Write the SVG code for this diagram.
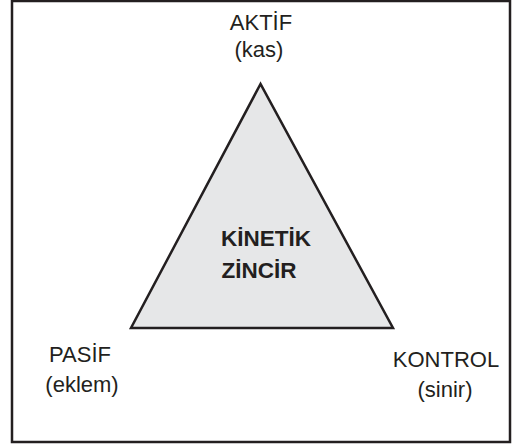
<svg xmlns="http://www.w3.org/2000/svg" width="520" height="446" viewBox="0 0 520 446">
<style>
.t{font-family:"Liberation Sans",Arial,sans-serif;font-size:22px;fill:#231f20;text-anchor:middle}
.b{font-family:"Liberation Sans",Arial,sans-serif;font-size:22.5px;font-weight:bold;fill:#231f20;text-anchor:middle}
</style>
<rect x="12" y="1" width="498" height="441" fill="#fff" stroke="#231f20" stroke-width="2.5"/>
<g id="chain">
<polygon points="260.5,84 131,328 393,328" fill="#e6e7e8" stroke="#231f20" stroke-width="2.5" stroke-linejoin="miter"/>
<text class="b" x="266" y="246">KİNETİK</text>
<text class="b" x="259" y="278">ZİNCİR</text>
</g>
<g id="aktif">
<text class="t" x="261" y="30">AKTİF</text>
<text class="t" x="259" y="57">(kas)</text>
</g>
<g id="pasif">
<text class="t" x="80" y="362">PASİF</text>
<text class="t" x="82" y="392">(eklem)</text>
</g>
<g id="kontrol">
<text class="t" x="446" y="367">KONTROL</text>
<text class="t" x="445" y="397">(sinir)</text>
</g>
<g id="connectors"/>
</svg>
